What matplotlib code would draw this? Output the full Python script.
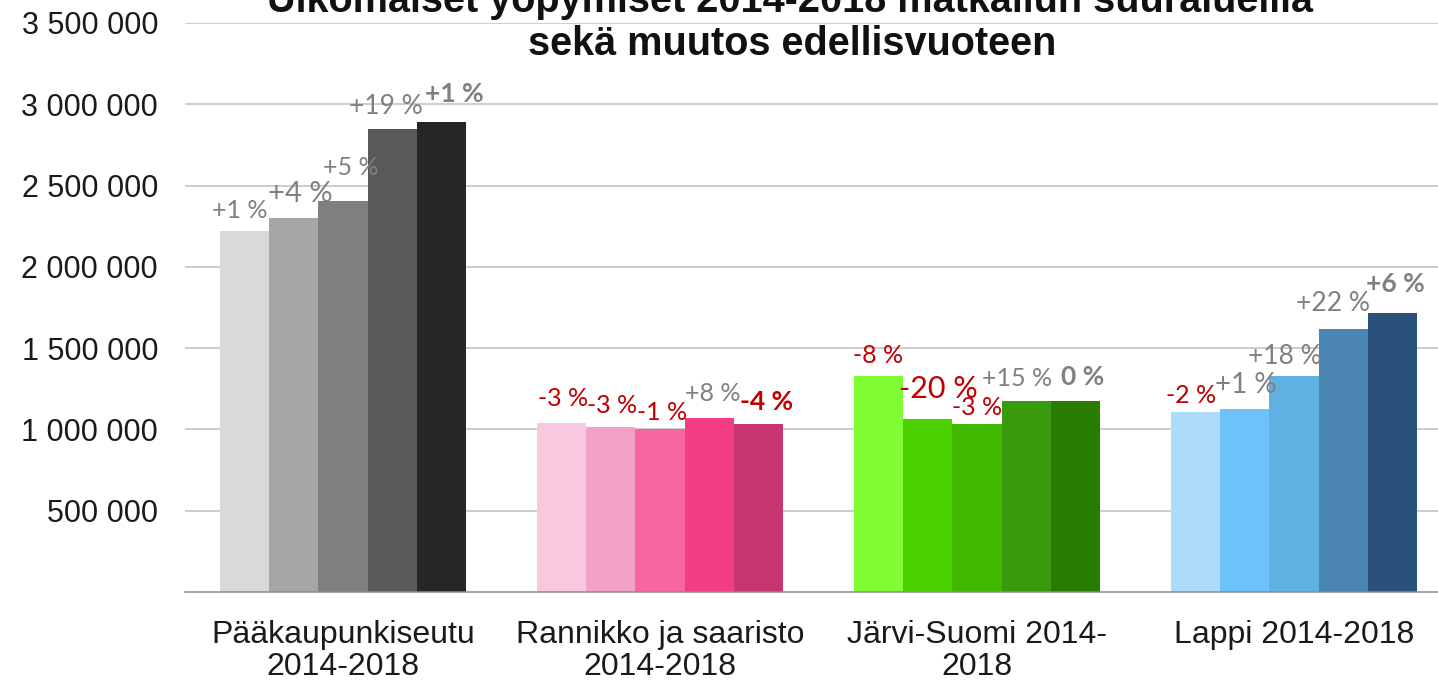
import matplotlib
matplotlib.use("Agg")
import matplotlib.pyplot as plt
import numpy as np

# ---- data ----
categories = ["Pääkaupunkiseutu\n2014-2018", "Rannikko ja saaristo\n2014-2018",
              "Järvi-Suomi 2014-\n2018", "Lappi 2014-2018"]
years = [2014, 2015, 2016, 2017, 2018]
v2014 = [2221000, 1041000, 1327000, 1110000]
v2015 = [2302000, 1014000, 1066000, 1123000]
v2016 = [2405000, 1000000, 1031000, 1327000]
v2017 = [2851000, 1072000, 1174000, 1618000]
v2018 = [2894000, 1031000, 1174000, 1716000]
c2014 = [1, -3, -8, -2]
c2015 = [4, -3, -20, 1]
c2016 = [5, -1, -3, 18]
c2017 = [19, 8, 15, 22]
c2018 = [1, -4, 0, 6]
yticks = [500000, 1000000, 1500000, 2000000, 2500000, 3000000, 3500000]
title_line1 = "Ulkomaiset yöpymiset 2014-2018 matkailun suuralueilla"
title_line2 = "sekä muutos edellisvuoteen"

values = [v2014, v2015, v2016, v2017, v2018]
changes = [c2014, c2015, c2016, c2017, c2018]

# ---- styles ----
colors = [
    ["#d9d9d9", "#a6a6a6", "#7f7f7f", "#595959", "#262626"],
    ["#f8c8df", "#f2a2c6", "#f866a2", "#f23d86", "#c8366f"],
    ["#7ffc34", "#4cd000", "#43b800", "#389a0c", "#287c00"],
    ["#afdbfa", "#6ec2fa", "#5fb1e2", "#4a84b2", "#2b517b"],
]
# label offsets in pixels (dx, dy) relative to bar top centre, per category, per year
offsets = [
    [(-4, 20), (7, 24), (8, 34), (-7, 22), (13, 28)],
    [(2, 24), (1, 22), (2, 17), (3, 24), (8, 22)],
    [(0, 21), (11, 30), (0, 17), (-9, 23), (7, 24)],
    [(-4, 16), (1, 24), (-9, 20), (-10, 25), (3, 29)],
]
sizes = [
    [18, 21, 18, 19, 19],
    [18, 18, 18, 18, 19],
    [18, 22, 18, 18, 19],
    [18, 20, 19, 19, 19],
]
RED = "#c00000"
GRAY = "#808080"
label_font = ["Lato", "DejaVu Sans"]

fig = plt.figure(figsize=(14.38, 6.85), dpi=100)
ax = fig.add_axes([184.5 / 1438, 93 / 685, 1268 / 1438, (592 - 23) / 685])

x = np.arange(len(categories))
bw = 0.1558
for yi in range(len(years)):
    pos = x + (yi - 2) * bw
    bars = ax.bar(pos, values[yi], width=bw, color=[colors[ci][yi] for ci in range(len(categories))],
                  zorder=3, linewidth=0)
    for ci, b in enumerate(bars):
        ch = changes[yi][ci]
        if ch > 0:
            txt = f"+{ch} %"
        else:
            txt = f"{ch} %"
        col = RED if ch < 0 else GRAY
        dx, dy = offsets[ci][yi]
        ax.annotate(txt, (b.get_x() + b.get_width() / 2, b.get_height()),
                    xytext=(dx, dy), textcoords="offset pixels",
                    ha="center", va="center", color=col,
                    fontsize=sizes[ci][yi], family=label_font,
                    fontweight="bold" if yi == 4 else "normal", zorder=5)

ax.set_xlim(-0.5, 3.5)
ax.set_ylim(0, 3500000)
ax.set_yticks(yticks)
ax.set_yticklabels([f"{v:,}".replace(",", " ") for v in yticks],
                   fontsize=22, family="Liberation Sans", color="#1a1a1a")
ax.set_xticks(x)
ax.set_xticklabels(categories, fontsize=23, family="Liberation Sans", color="#1a1a1a",
                   linespacing=1.08)
ax.tick_params(axis="both", length=0)
ax.tick_params(axis="y", pad=19)
ax.tick_params(axis="x", pad=20)
ax.yaxis.grid(True, color="#c0c0c0", linewidth=1.1, zorder=0)
for s in ["left", "right", "top"]:
    ax.spines[s].set_visible(False)
ax.spines["bottom"].set_color("#8c8c8c")
ax.spines["bottom"].set_linewidth(1.1)
ax.spines["bottom"].set_zorder(4)
ax.set_facecolor("none")

fig.text(790 / 1438, 1 - 12 / 685, title_line1, ha="center", va="baseline",
         fontsize=28.5, fontweight="bold", family="Liberation Sans", color="#111111")
fig.text(792 / 1438, 1 - 55 / 685, title_line2, ha="center", va="baseline",
         fontsize=28.5, fontweight="bold", family="Liberation Sans", color="#111111")

fig.savefig("out.png", dpi=100)
